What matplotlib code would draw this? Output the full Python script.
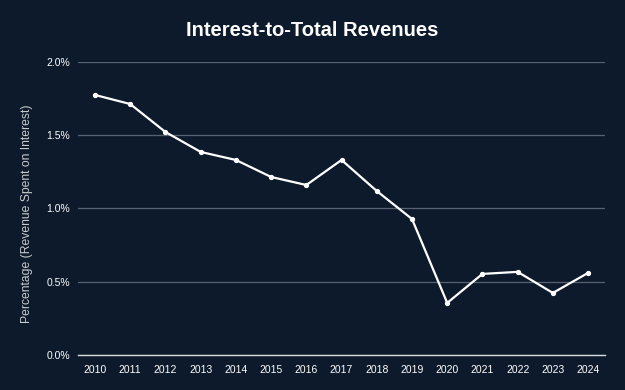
import matplotlib
matplotlib.use("Agg")
import matplotlib.pyplot as plt
from matplotlib.ticker import FuncFormatter

# Interest-to-total revenues, percent
years = [2010, 2011, 2012, 2013, 2014, 2015, 2016, 2017,
         2018, 2019, 2020, 2021, 2022, 2023, 2024]
pct = [1.775, 1.713, 1.522, 1.386, 1.331, 1.215, 1.160, 1.331,
       1.119, 0.928, 0.355, 0.553, 0.567, 0.423, 0.560]

bg = "#0c1a2c"
plt.rcParams["font.family"] = ["Liberation Sans", "DejaVu Sans"]

fig = plt.figure(figsize=(6.25, 3.9), dpi=100, facecolor=bg)
ax = fig.add_axes([0.125, 0.09, 0.843, 0.751], facecolor=bg)

ax.plot(years, pct, color="white", lw=1.6, marker="o", ms=2.8, zorder=3)

ax.set_xlim(2009.52, 2024.48)
ax.set_ylim(0, 2.0)
ax.set_xticks(years)
ax.set_yticks([0, 0.5, 1.0, 1.5, 2.0])
ax.yaxis.set_major_formatter(FuncFormatter(lambda v, _: f"{v:.1f}%"))

ax.grid(axis="y", color="#56626f", lw=0.9)
ax.set_axisbelow(True)
for s in ["top", "right", "left"]:
    ax.spines[s].set_visible(False)
ax.spines["bottom"].set_color("#d8dce0")
ax.spines["bottom"].set_linewidth(1.0)
ax.tick_params(axis="both", length=0, colors="white", labelsize=7.5)
ax.tick_params(axis="y", pad=6)
ax.tick_params(axis="x", pad=7)

ax.set_ylabel("Percentage (Revenue Spent on Interest)", color="#c8ccd0",
              fontsize=8.7)
ax.yaxis.set_label_coords(-0.086, 0.481)
fig.suptitle("Interest-to-Total Revenues", color="white", fontsize=14.5,
             fontweight="bold", y=0.945)

fig.savefig("out.png", dpi=100, facecolor=bg)
